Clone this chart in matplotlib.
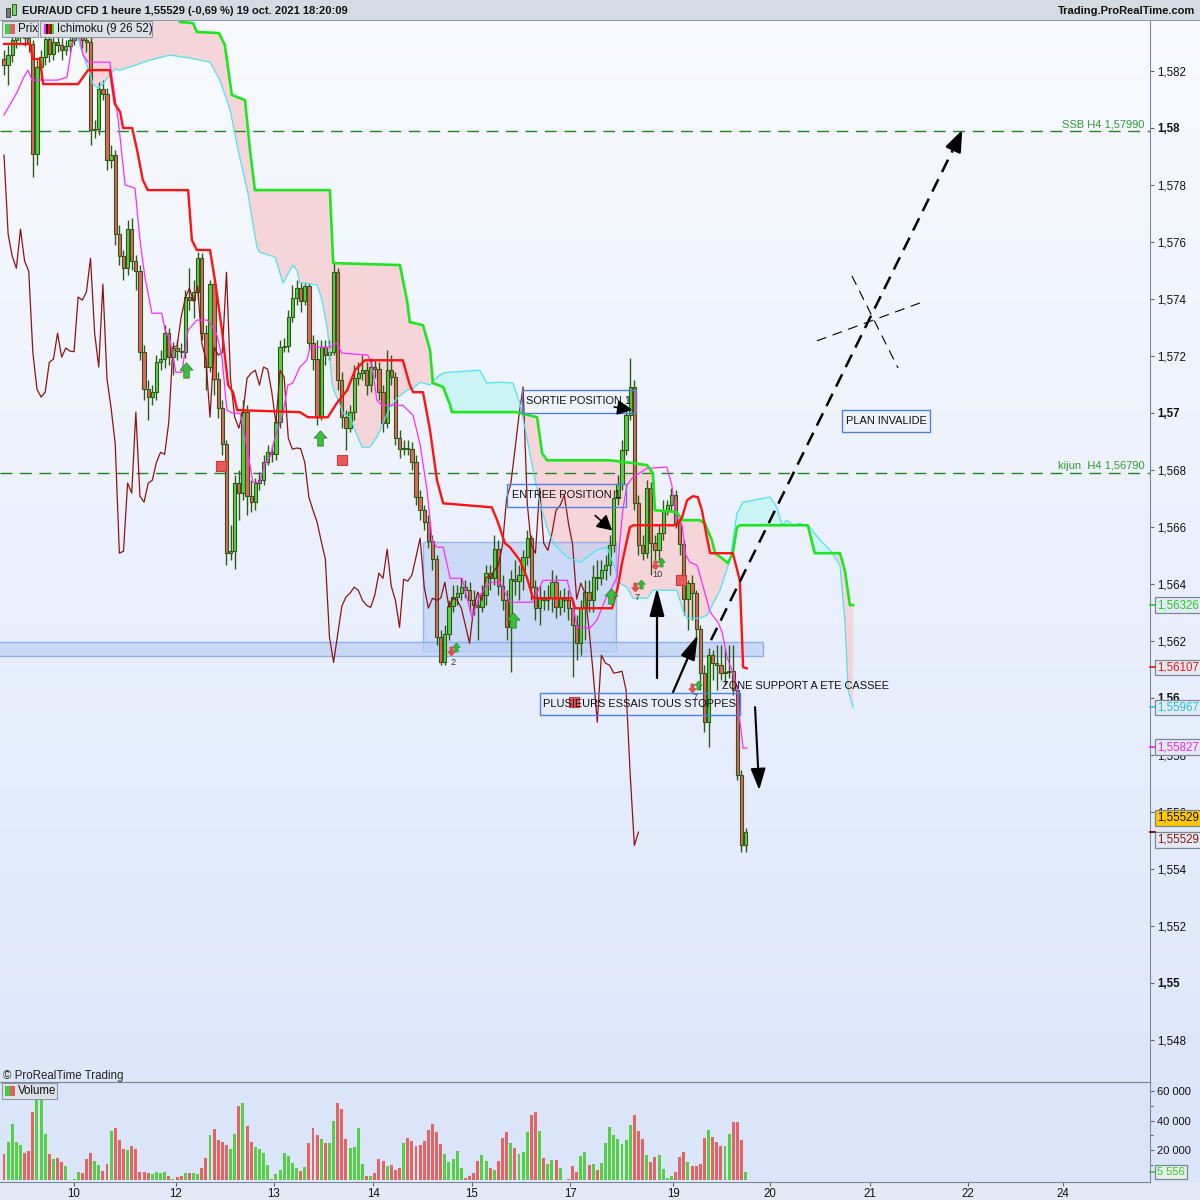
import numpy as np
import matplotlib
matplotlib.use("Agg")
import matplotlib.pyplot as plt
from matplotlib.patches import Rectangle
import matplotlib.transforms as mtransforms

plt.rcParams['font.family'] = ['Liberation Sans', 'DejaVu Sans']

# ---------------- data (EUR/AUD, 1h candles) ----------------
first_open = 1.58242
closes = [1.58221, 1.58256, 1.58309, 1.58326, 1.58344, 1.58316, 1.58295, 1.57908, 1.58214, 1.58249,
          1.58312, 1.58259, 1.58302, 1.58291, 1.58273, 1.58288, 1.58309, 1.58326, 1.58344, 1.58309,
          1.58302, 1.57993, 1.57996, 1.58137, 1.58119, 1.57887, 1.57905, 1.57628, 1.57550, 1.57508,
          1.57645, 1.57533, 1.57498, 1.57213, 1.57084, 1.57056, 1.57073, 1.57178, 1.57189, 1.57280,
          1.57196, 1.57228, 1.57217, 1.57215, 1.57407, 1.57396, 1.57424, 1.57543, 1.57280, 1.57161,
          1.57452, 1.57119, 1.57017, 1.56891, 1.56508, 1.56515, 1.56754, 1.56719, 1.57003, 1.56708,
          1.56687, 1.56754, 1.56764, 1.56827, 1.56862, 1.56855, 1.56968, 1.57231, 1.57235, 1.57336,
          1.57403, 1.57438, 1.57392, 1.57445, 1.57245, 1.57189, 1.56985, 1.57231, 1.57203, 1.57213,
          1.57494, 1.57115, 1.56985, 1.56947, 1.57003, 1.57122, 1.57140, 1.57150, 1.57098, 1.57161,
          1.57154, 1.57073, 1.56964, 1.57150, 1.57126, 1.56912, 1.56873, 1.56877, 1.56875, 1.56827,
          1.56705, 1.56659, 1.56617, 1.56550, 1.56487, 1.56213, 1.56125, 1.56224, 1.56322, 1.56354,
          1.56368, 1.56389, 1.56378, 1.56343, 1.56325, 1.56318, 1.56361, 1.56438, 1.56420, 1.56522,
          1.56392, 1.56343, 1.56248, 1.56417, 1.56410, 1.56431, 1.56494, 1.56561, 1.56389, 1.56315,
          1.56350, 1.56343, 1.56350, 1.56406, 1.56318, 1.56350, 1.56343, 1.56315, 1.56255, 1.56192,
          1.56318, 1.56371, 1.56343, 1.56424, 1.56422, 1.56448, 1.56466, 1.56536, 1.56701, 1.56750,
          1.56869, 1.56992, 1.57091, 1.56683, 1.56536, 1.56508, 1.56736, 1.56543, 1.56518, 1.56578,
          1.56659, 1.56676, 1.56712, 1.56613, 1.56540, 1.56347, 1.56403, 1.56368, 1.56241, 1.56087,
          1.55915, 1.56150, 1.56122, 1.56115, 1.56087, 1.56090, 1.56094, 1.56027, 1.55729, 1.55483,
          1.55529]
highs = [1.58274, 1.58291, 1.58351, 1.58361, 1.58372, 1.58365, 1.58344, 1.58309, 1.58238, 1.58274,
         1.58344, 1.58344, 1.58326, 1.58326, 1.58316, 1.58309, 1.58337, 1.58351, 1.58372, 1.58361,
         1.58344, 1.58323, 1.58028, 1.58161, 1.58168, 1.58140, 1.57940, 1.57922, 1.57659, 1.57571,
         1.57677, 1.57684, 1.57554, 1.57519, 1.57238, 1.57115, 1.57098, 1.57203, 1.57220, 1.57308,
         1.57298, 1.57249, 1.57256, 1.57245, 1.57431, 1.57508, 1.57466, 1.57564, 1.57561, 1.57308,
         1.57466, 1.57466, 1.57143, 1.57045, 1.56905, 1.56606, 1.56782, 1.56799, 1.57045, 1.57027,
         1.56764, 1.56771, 1.56792, 1.56852, 1.56887, 1.56887, 1.56982, 1.57256, 1.57263, 1.57361,
         1.57449, 1.57466, 1.57459, 1.57459, 1.57456, 1.57273, 1.57256, 1.57256, 1.57256, 1.57256,
         1.57529, 1.57508, 1.57143, 1.57010, 1.57027, 1.57168, 1.57178, 1.57203, 1.57178, 1.57192,
         1.57185, 1.57178, 1.57098, 1.57221, 1.57203, 1.57143, 1.56940, 1.56905, 1.56905, 1.56898,
         1.56852, 1.56729, 1.56676, 1.56641, 1.56571, 1.56501, 1.56238, 1.56255, 1.56343, 1.56396,
         1.56396, 1.56420, 1.56413, 1.56406, 1.56378, 1.56361, 1.56396, 1.56466, 1.56466, 1.56571,
         1.56554, 1.56431, 1.56378, 1.56448, 1.56483, 1.56466, 1.56518, 1.56589, 1.56571, 1.56413,
         1.56396, 1.56378, 1.56396, 1.56448, 1.56431, 1.56378, 1.56385, 1.56378, 1.56343, 1.56290,
         1.56343, 1.56413, 1.56413, 1.56466, 1.56483, 1.56483, 1.56501, 1.56571, 1.56729, 1.56782,
         1.56905, 1.57027, 1.57192, 1.57115, 1.56712, 1.56571, 1.56764, 1.56757, 1.56571, 1.56606,
         1.56694, 1.56694, 1.56736, 1.56729, 1.56641, 1.56554, 1.56413, 1.56431, 1.56378, 1.56255,
         1.56115, 1.56175, 1.56167, 1.56185, 1.56185, 1.56175, 1.56185, 1.56185, 1.56045, 1.55746,
         1.55543]
lows = [1.58186, 1.58151, 1.58231, 1.58281, 1.58302, 1.58288, 1.58266, 1.57828, 1.57870, 1.58168,
        1.58221, 1.58231, 1.58238, 1.58266, 1.58238, 1.58256, 1.58266, 1.58291, 1.58309, 1.58281,
        1.58266, 1.57940, 1.57965, 1.57975, 1.58098, 1.57852, 1.57859, 1.57589, 1.57519, 1.57466,
        1.57484, 1.57501, 1.57431, 1.57185, 1.57045, 1.56975, 1.57027, 1.57045, 1.57150, 1.57157,
        1.57168, 1.57133, 1.57185, 1.57192, 1.57192, 1.57361, 1.57333, 1.57396, 1.57256, 1.57080,
        1.57143, 1.57063, 1.56982, 1.56852, 1.56466, 1.56483, 1.56452, 1.56624, 1.56694, 1.56641,
        1.56652, 1.56659, 1.56729, 1.56747, 1.56817, 1.56827, 1.56834, 1.56947, 1.57213, 1.57213,
        1.57319, 1.57378, 1.57354, 1.57378, 1.57221, 1.57150, 1.56957, 1.56975, 1.57168, 1.57185,
        1.57203, 1.57080, 1.56947, 1.56870, 1.56933, 1.56975, 1.57098, 1.57115, 1.57063, 1.57073,
        1.57122, 1.57045, 1.56933, 1.56947, 1.57098, 1.56887, 1.56841, 1.56852, 1.56852, 1.56799,
        1.56676, 1.56624, 1.56589, 1.56526, 1.56448, 1.56185, 1.56115, 1.56115, 1.56203, 1.56301,
        1.56325, 1.56343, 1.56350, 1.56301, 1.56290, 1.56203, 1.56301, 1.56325, 1.56378, 1.56396,
        1.56361, 1.56308, 1.56203, 1.56090, 1.56361, 1.56343, 1.56378, 1.56466, 1.56343, 1.56273,
        1.56255, 1.56308, 1.56308, 1.56301, 1.56280, 1.56290, 1.56301, 1.56273, 1.56073, 1.56132,
        1.56150, 1.56203, 1.56301, 1.56301, 1.56378, 1.56396, 1.56413, 1.56431, 1.56511, 1.56676,
        1.56729, 1.56852, 1.56975, 1.56659, 1.56501, 1.56483, 1.56490, 1.56431, 1.56483, 1.56483,
        1.56554, 1.56641, 1.56652, 1.56596, 1.56501, 1.56290, 1.56238, 1.56273, 1.56203, 1.56027,
        1.55880, 1.55827, 1.56062, 1.56027, 1.56062, 1.56045, 1.56069, 1.56010, 1.55711, 1.55458,
        1.55458]
volumes = [17300, 25600, 38000, 25600, 23800, 18000, 19600, 45600, 60000, 62000,
           30700, 17300, 14400, 15100, 11800, 9100, 0, 700, 5100, 4700,
           14000, 18000, 12700, 10400, 6000, 11100, 32700, 34700, 26700, 21100,
           20000, 22900, 21100, 5100, 5100, 4700, 3800, 5100, 4700, 5100,
           2400, 700, 1800, 2400, 4400, 4400, 4400, 4000, 8000, 15100,
           30000, 34500, 26700, 25600, 23800, 20700, 31300, 49600, 52000, 36200,
           25600, 22000, 20700, 18400, 10000, 900, 4000, 6900, 18000, 16200,
           11300, 8200, 6200, 8700, 24700, 34700, 30400, 27300, 24700, 24700,
           40000, 52000, 48000, 27300, 21800, 22000, 34700, 10700, 2700, 2700,
           4700, 14000, 13100, 9100, 10400, 6900,
           8400, 24700, 28500, 26200, 22900, 23300, 26200, 34000, 38000, 32200,
           24000, 17300, 12200, 14000, 19600, 8000, 1100, 2900, 4700, 12900,
           16700, 12700, 8000, 6700, 12900, 28200, 32200, 24900, 21300, 17300,
           18900, 32200, 43600, 45600, 32900, 15100, 10700, 13300, 13300, 8000,
           0, 700, 9300, 5300, 16000, 18900, 10000, 11100, 6700, 11300,
           24700, 36000, 30000, 27300, 24000, 26700, 37300, 43600, 32700, 27300,
           16700, 12000, 15300, 16700, 7300, 1600, 2700, 5100, 15300, 18900,
           12000, 9300, 9300, 11100, 28000, 34000, 28700, 25600, 22700, 22700,
           31300, 39300, 39300, 26700, 5556]

# Ichimoku (9 26 52) lines (bar index, price)
kijun_idx = [0, 6.3, 7.0, 8.7, 9.5, 18.0, 20.4, 25.7, 26.9, 28.2, 28.9, 31.1, 32.3, 33.7, 34.9,
             44.7, 45.6, 46.8, 50.0, 51.2, 52.9, 54.4, 55.6, 56.6, 71.8, 73.8, 78.6, 80.8, 83.3, 85.2,
             87.6, 96.8, 98.5, 99.3, 101.7, 103.4, 105.1, 106.6, 118.4, 119.7, 121.6, 122.8, 125.2, 126.9,
             128.4, 137.9, 138.6, 147.6, 149.0, 150.0, 151.9, 152.7, 163.3, 164.6, 165.8, 167.2, 168.4,
             169.4, 170.6, 171.4, 176.9, 178.6, 179.4, 180.3]
kijun_val = [1.58295, 1.58295, 1.58242, 1.58242, 1.58154, 1.58154, 1.58203, 1.58203, 1.58084, 1.58056,
             1.58000, 1.58000, 1.57923, 1.57817, 1.57782, 1.57782, 1.57607, 1.57572, 1.57572, 1.57466,
             1.57291, 1.57098, 1.57073, 1.57010, 1.57003, 1.56985, 1.56985, 1.57035, 1.57080, 1.57150,
             1.57185, 1.57185, 1.57098, 1.57073, 1.57073, 1.56940, 1.56764, 1.56683, 1.56669, 1.56624,
             1.56543, 1.56529, 1.56483, 1.56424, 1.56350, 1.56350, 1.56315, 1.56315, 1.56389, 1.56473,
             1.56599, 1.56606, 1.56606, 1.56634, 1.56694, 1.56708, 1.56705, 1.56659, 1.56564, 1.56508,
             1.56508, 1.56413, 1.56108, 1.56104]
tenkan_idx = [0, 0.7, 3.2, 4.6, 5.8, 6.8, 13.1, 15.3, 16.5, 18.0,
              19.2, 20.4, 25.7, 27.7, 29.4, 31.8, 33.0, 34.2, 35.9, 38.3,
              39.1, 40.3, 41.7, 43.2, 44.7, 46.8, 49.3, 50.0, 51.7, 52.9,
              54.1, 55.6, 57.3, 59.0, 60.4, 62.1, 63.3, 64.6, 65.8, 67.7,
              68.9, 70.1, 71.8, 73.5, 74.3, 79.1, 80.8, 82.0, 88.3, 89.3,
              90.5, 91.7, 96.8, 99.3, 101.0, 102.7, 103.9, 105.1, 106.6, 108.3,
              111.2, 112.4, 113.6, 115.5, 118.0, 120.4, 121.6, 122.8, 128.4, 130.8,
              136.7, 137.9, 139.1, 142.2, 143.9, 145.9, 147.6, 148.8, 149.5, 150.2,
              151.2, 152.7, 156.1, 160.9, 162.1, 163.1, 164.6, 165.5, 166.5, 168.2,
              169.4, 171.4, 173.3, 174.3, 175.5, 176.7, 177.9, 178.6, 179.4, 180.3]
tenkan_val = [1.58046, 1.58063, 1.58126, 1.58172, 1.58203, 1.58168, 1.58168, 1.58179, 1.58291, 1.58344,
              1.58256, 1.58231, 1.58231, 1.58031, 1.57800, 1.57789, 1.57607, 1.57477, 1.57350, 1.57350,
              1.57291, 1.57256, 1.57143, 1.57143, 1.57291, 1.57326, 1.57326, 1.57316, 1.57273, 1.57196,
              1.57010, 1.56999, 1.56999, 1.56880, 1.56757, 1.56757, 1.56824, 1.56845, 1.56915, 1.56999,
              1.57098, 1.57105, 1.57161, 1.57185, 1.57231, 1.57231, 1.57245, 1.57210, 1.57203, 1.57168,
              1.57045, 1.57027, 1.57027, 1.56992, 1.56888, 1.56729, 1.56554, 1.56529, 1.56529, 1.56420,
              1.56420, 1.56350, 1.56283, 1.56361, 1.56406, 1.56406, 1.56371, 1.56336, 1.56336, 1.56413,
              1.56413, 1.56343, 1.56248, 1.56245, 1.56273, 1.56343, 1.56389, 1.56424, 1.56554, 1.56659,
              1.56747, 1.56775, 1.56806, 1.56810, 1.56747, 1.56641, 1.56603, 1.56501, 1.56476, 1.56466,
              1.56406, 1.56301, 1.56266, 1.56231, 1.56143, 1.56097, 1.56038, 1.55922, 1.55824, 1.55824]
ssb_idx = [17.0, 41.7, 42.7, 45.9, 46.8, 52.2, 53.6, 55.3, 58.5, 59.7,
           60.9, 79.1, 79.9, 96.1, 97.8, 98.5, 101.7, 103.4, 104.1, 106.6,
           108.3, 108.7, 124.5, 129.4, 130.6, 131.8, 147.1, 152.7, 156.1, 157.5,
           158.0, 163.3, 164.6, 168.9, 170.1, 171.8, 172.6, 174.3, 175.7, 176.9,
           177.9, 178.6, 195.1, 196.8, 202.9, 204.1, 205.3, 206.1]
ssb_val = [1.5860, 1.5855, 1.58372, 1.58368, 1.58337, 1.58333, 1.58291, 1.58116, 1.58098, 1.57923,
           1.57782, 1.57782, 1.57526, 1.57519, 1.57396, 1.57319, 1.57308, 1.57221, 1.57105, 1.57091,
           1.57027, 1.57003, 1.57003, 1.56985, 1.56859, 1.56834, 1.56834, 1.56824, 1.56817, 1.56789,
           1.56659, 1.56652, 1.56624, 1.56624, 1.56613, 1.56554, 1.56508, 1.56490, 1.56473, 1.56508,
           1.56599, 1.56606, 1.56606, 1.56508, 1.56508, 1.56448, 1.56326, 1.56326]
ssa_idx = [17.0, 18.0, 18.4, 19.2, 20.1, 20.9, 21.6, 22.8, 24.0, 25.7,
           26.9, 28.2, 30.6, 35.4, 40.3, 45.1, 50.0, 52.4, 54.9, 56.8,
           58.5, 59.2, 60.4, 61.4, 62.1, 65.8, 67.7, 70.1, 71.1, 71.8,
           76.0, 77.2, 78.6, 79.6, 80.3, 81.1, 82.3, 84.0, 85.7, 86.9,
           88.8, 90.5, 92.0, 93.7, 95.4, 97.8, 99.3, 101.0, 103.4, 105.1,
           106.6, 108.3, 115.5, 117.2, 120.4, 123.5, 125.2, 126.9, 128.4, 130.1,
           131.8, 133.3, 136.7, 139.8, 141.5, 143.9, 146.4, 147.8, 149.5, 151.2,
           152.7, 156.1, 157.5, 163.3, 164.8, 165.8, 168.9, 170.6, 173.8, 176.2,
           177.9, 179.4, 185.9, 187.6, 188.8, 190.0, 191.5, 193.2, 195.6, 198.1,
           200.5, 202.9, 204.1, 204.9, 206.1]
ssa_val = [1.58484, 1.58312, 1.58291, 1.58256, 1.58221, 1.58186, 1.58154, 1.58140, 1.58154, 1.58186,
           1.58207, 1.58203, 1.58214, 1.58238, 1.58256, 1.58245, 1.58231, 1.58168, 1.58063, 1.57923,
           1.57817, 1.57772, 1.57666, 1.57582, 1.57564, 1.57547, 1.57456, 1.57519, 1.57501, 1.57456,
           1.57449, 1.57396, 1.57284, 1.57105, 1.57070, 1.57045, 1.56999, 1.56985, 1.56922, 1.56880,
           1.56880, 1.56915, 1.56964, 1.57020, 1.57052, 1.57080, 1.57087, 1.57108, 1.57098, 1.57126,
           1.57140, 1.57143, 1.57150, 1.57105, 1.57108, 1.57105, 1.57035, 1.56915, 1.56800, 1.56683,
           1.56599, 1.56543, 1.56494, 1.56476, 1.56494, 1.56519, 1.56529, 1.56473, 1.56403, 1.56389,
           1.56350, 1.56350, 1.56378, 1.56378, 1.56308, 1.56280, 1.56280, 1.56290, 1.56378, 1.56483,
           1.56648, 1.56687, 1.56705, 1.56669, 1.56606, 1.56624, 1.56606, 1.56613, 1.56599, 1.56554,
           1.56519, 1.56466, 1.56273, 1.56027, 1.55967]
chikou_shift = 26

day_ticks = [17.0, 41.7, 65.5, 89.6, 113.6, 137.4, 162.4, 185.9, 210.2, 234.0, 257.0]
day_labels = ['10', '12', '13', '14', '15', '17', '19', '20', '21', '22', '24']
price_ticks = [1.548, 1.550, 1.552, 1.554, 1.556, 1.558, 1.560, 1.562, 1.564, 1.566,
               1.568, 1.570, 1.572, 1.574, 1.576, 1.578, 1.580, 1.582]
price_labels = ['1,548', '1,55', '1,552', '1,554', '1,556', '1,558', '1,56', '1,562', '1,564', '1,566',
                '1,568', '1,57', '1,572', '1,574', '1,576', '1,578', '1,58', '1,582']
vol_ticks = [20000, 40000, 60000]
vol_labels = ['20 000', '40 000', '60 000']

ssb_h4 = 1.57990
kijun_h4 = 1.56790

# ---------------- layout ----------------
W, H = 1200, 1200
X0, X1 = -0.971, 278.16
Y0, Y1 = 1.546526, 1.583754
V0, V1 = -1350, 66000
TXT = 7.9

def fy(py):
    return 1 - py / H

fig = plt.figure(figsize=(12, 12), dpi=100)
fig.patch.set_facecolor('#e4eaf5')

# background gradient for price panel (incl. right scale)
bg = fig.add_axes([0, fy(1082), 1, (1082 - 21) / H])
t = np.linspace(0, 1, 256)[:, None, None]
top = np.array([0.972, 0.980, 0.998])
bot = np.array([0.870, 0.906, 0.980])
bg.imshow(top + (bot - top) * t, aspect='auto', extent=[0, 1, 0, 1])
bg.axis('off')
# volume background
bgv = fig.add_axes([0, fy(1182), 1, 100 / H])
bgv.set_facecolor('#dbe5fa')
bgv.set_xticks([]); bgv.set_yticks([])
for s in bgv.spines.values():
    s.set_visible(False)

ax = fig.add_axes([0, fy(1082), 1150 / W, (1082 - 21) / H])
ax.set_facecolor('none')
ax.set_xlim(X0, X1)
ax.set_ylim(Y0, Y1)

closes_a = np.array(closes)
opens_a = np.r_[first_open, closes_a[:-1]]
n = len(closes_a)
xi = np.arange(n)
highs_a = np.maximum(np.array(highs), np.maximum(opens_a, closes_a))
lows_a = np.minimum(np.array(lows), np.minimum(opens_a, closes_a))
up = closes_a >= opens_a
GREEN = '#56cf46'
RED = '#e46363'
EDGE = '#2f5a16'
cols = np.where(up, GREEN, RED)

# cloud
grid = np.linspace(17.0, 206.1, 3000)
a = np.interp(grid, ssa_idx, ssa_val)
b = np.interp(grid, ssb_idx, ssb_val)
ax.fill_between(grid, a, b, where=b >= a, interpolate=True, color='#f5d5da', lw=0, zorder=1)
ax.fill_between(grid, a, b, where=a > b, interpolate=True, color='#ccf4f5', lw=0, zorder=1)

# blue zones
ax.add_patch(Rectangle((101.7, 1.56165), 148.5 - 101.7, 1.56547 - 1.56165,
                       fc='#bccff5', ec='#6d9ae8', lw=1, alpha=0.65, zorder=1.5))
ax.add_patch(Rectangle((-1.5, 1.56147), 184.2 + 1.5, 1.56196 - 1.56147,
                       fc='#bccff5', ec='#6d9ae8', lw=1, alpha=0.7, zorder=1.5))

# horizontal H4 levels
ax.axhline(ssb_h4, color='#1f861f', lw=1.0, ls=(0, (8.5, 5.5)), zorder=1.6)
ax.axhline(kijun_h4, color='#1f861f', lw=1.0, ls=(0, (8.5, 5.5)), zorder=1.6)
ax.text(276.9, ssb_h4 + 0.00005, 'SSB H4 1,57990', ha='right', va='bottom',
        color='#2f9a2f', fontsize=8.0, zorder=5)
ax.text(276.9, kijun_h4 + 0.00005, 'kijun  H4 1,56790', ha='right', va='bottom',
        color='#2f9a2f', fontsize=8.0, zorder=5)

# candles
ax.vlines(xi, lows_a, highs_a, color=EDGE, lw=1.0, zorder=2)
ax.bar(xi, np.maximum(np.abs(closes_a - opens_a), 1.2e-5), bottom=np.minimum(opens_a, closes_a),
       width=0.8, color=cols, edgecolor=EDGE, linewidth=0.8, zorder=2.1)

# ichimoku lines
chik_x = np.arange(n - chikou_shift)
ax.plot(chik_x, closes_a[chikou_shift:], color='#8e1414', lw=0.9, zorder=3)
ax.plot(ssa_idx, ssa_val, color='#4fe2f0', lw=0.9, zorder=3)
ax.plot(tenkan_idx, tenkan_val, color='#ff2cff', lw=0.9, zorder=3.1)
ax.plot(ssb_idx, ssb_val, color='#1fe51f', lw=1.9, zorder=3.2, solid_joinstyle='round')
ax.plot(kijun_idx, kijun_val, color='#ff1212', lw=1.7, zorder=3.3, solid_joinstyle='round')

# signal markers
up_arrow = [(0, 1), (-0.85, 0.05), (-0.36, 0.05), (-0.36, -1), (0.36, -1), (0.36, 0.05), (0.85, 0.05), (0, 1)]
down_arrow = [(x, -y) for x, y in up_arrow]
big_up_x = [44.2, 76.7, 123.5, 147.3]
big_up_y = [1.57151, 1.56912, 1.56274, 1.56358]
ax.plot(big_up_x, big_up_y, ls='none', marker=up_arrow, ms=11, mfc='#3fbd3f', mec='#2c8a2c', mew=0.6, zorder=4)
sq_x = [52.7, 82.0, 164.3, 138.3]
sq_y = [1.56814, 1.56835, 1.56414, 1.55986]
ax.plot(sq_x, sq_y, ls='none', marker='s', ms=7.3, mfc='#ea5a5a', mec='#c83c3c', mew=0.8, zorder=4)
pair_dn_x = [108.5, 153.2, 158.0, 167.0]
pair_dn_y = [1.56165, 1.56389, 1.56467, 1.56035]
pair_up_x = [109.8, 154.6, 159.5, 168.4]
pair_up_y = [1.56178, 1.56400, 1.56477, 1.56046]
pair_txt = ['2', '7', '10', '7']
pair_txt_x = [109.0, 153.6, 158.7, 167.7]
pair_txt_y = [1.56126, 1.56351, 1.56435, 1.56003]
ax.plot(pair_dn_x, pair_dn_y, ls='none', marker=down_arrow, ms=6.5, mfc='#e85050', mec='#c83a3a', mew=0.4, zorder=4)
ax.plot(pair_up_x, pair_up_y, ls='none', marker=up_arrow, ms=6.5, mfc='#33bb33', mec='#238a23', mew=0.4, zorder=4)
for tx, px, py in zip(pair_txt, pair_txt_x, pair_txt_y):
    ax.text(px, py, tx, ha='center', va='center', fontsize=6.6, color='#333333', zorder=4)

# text boxes
boxes = [('SORTIE POSITION 1', 125.7, 153.4, 1.57000, 1.57081),
         ('ENTREE POSITION 1', 122.1, 151.0, 1.56670, 1.56751),
         ('PLAN INVALIDE', 203.4, 224.8, 1.56933, 1.57010),
         ('PLUSIEURS ESSAIS TOUS STOPPES', 130.1, 178.6, 1.55940, 1.56017)]
for txt, x0, x1, y0, y1 in boxes:
    ax.add_patch(Rectangle((x0, y0), x1 - x0, y1 - y0, fc='none', ec='#4f82e0', lw=1.0, zorder=4.5))
    ax.text((x0 + x1) / 2, (y0 + y1) / 2, txt, ha='center', va='center', fontsize=TXT,
            color='#111111', zorder=4.6)
ax.text(174.3, 1.56042, 'ZONE SUPPORT A ETE CASSEE', ha='left', va='center', fontsize=TXT,
        color='#111111', zorder=4.6)

# arrows
def arrow(tail, tip, lw=1.5, hl=1.3, hw=0.35, ms=10):
    ax.annotate('', xy=tip, xytext=tail,
                arrowprops=dict(arrowstyle=f'-|>,head_length={hl},head_width={hw}', color='black',
                                lw=lw, shrinkA=0, shrinkB=0, mutation_scale=ms), zorder=5)

arrow((148.1, 1.57021), (152.5, 1.57011), lw=1.2, hl=0.9, hw=0.45)
arrow((143.5, 1.56640), (147.6, 1.56588), lw=1.2, hl=0.9, hw=0.5)
arrow((158.5, 1.56070), (158.5, 1.56386), lw=1.6, hl=1.7, hw=0.45)
arrow((162.4, 1.56021), (168.4, 1.56221), lw=1.6, hl=1.5, hw=0.45)
arrow((182.3, 1.55968), (183.3, 1.55677), lw=1.5, hl=1.3, hw=0.45)
# dashed target arrow
ax.plot([171.6, 231.4], [1.56203, 1.57955], color='black', lw=1.8, ls=(0, (5.5, 3.2)), zorder=5)
arrow((230.6, 1.57930), (232.6, 1.57993), lw=1.8, hl=1.3, hw=0.5)
# X mark
ax.plot([197.3, 222.3], [1.57253, 1.57386], color='black', lw=0.8, ls=(0, (9, 6)), zorder=5)
ax.plot([205.8, 217.0], [1.57481, 1.57158], color='black', lw=0.8, ls=(0, (9, 6)), zorder=5)

# axes styling
for s in ['left', 'top']:
    ax.spines[s].set_visible(False)
ax.spines['right'].set_color('#7c8a98')
ax.spines['bottom'].set_color('#7c8a98')
ax.set_xticks([])
ax.yaxis.tick_right()
ax.set_yticks(price_ticks)
ax.set_yticklabels(price_labels)
ax.tick_params(axis='y', direction='out', length=3, width=0.8, color='#5a6672', pad=2,
               labelsize=8.3, labelcolor='#111111')
for lbl in ax.get_yticklabels():
    if len(lbl.get_text()) == 4:
        lbl.set_fontweight('bold')

trans = mtransforms.blended_transform_factory(ax.transAxes, ax.transData)
def value_label(yv, text, tc, fc='#e4eaf4', tick_y=None):
    ax.text(1.0 + 7 / 1150, yv, text, transform=trans, ha='left', va='center', fontsize=8.3,
            color=tc, zorder=10, clip_on=False,
            bbox=dict(boxstyle='square,pad=0.16', fc=fc, ec='#7a8896', lw=0.9))
    ty = yv if tick_y is None else tick_y
    ax.plot([1.0, 1.0 + 5 / 1150], [ty, ty], transform=trans, color=tc, lw=1.2, clip_on=False, zorder=10)

value_label(1.56326, '1,56326', '#22cc22')
value_label(1.56107, '1,56107', '#ee1111')
value_label(1.55967, '1,55967', '#1fc4d4')
value_label(1.55827, '1,55827', '#ee22ee')
value_label(1.55579, '1,55529', '#111111', fc='#ffc800', tick_y=1.55529)
value_label(1.55502, '1,55529', '#8e1414', tick_y=1.55529)

# volume panel
vax = fig.add_axes([0, fy(1182), 1150 / W, 100 / H])
vax.set_facecolor('none')
vax.set_xlim(X0, X1)
vax.set_ylim(V0, V1)
vax.bar(xi, volumes, width=0.72, color=cols, lw=0, zorder=2)
vax.spines['left'].set_visible(False)
for s in ['right', 'bottom', 'top']:
    vax.spines[s].set_color('#7c8a98')
vax.yaxis.tick_right()
vax.set_yticks(vol_ticks)
vax.set_yticklabels(vol_labels)
vax.set_yticks([10000, 30000, 50000], minor=True)
vax.tick_params(axis='y', which='major', direction='out', length=3, width=0.8, color='#5a6672',
                pad=2, labelsize=8.0, labelcolor='#111111')
vax.tick_params(axis='y', which='minor', direction='out', length=2, width=0.8, color='#5a6672')
vax.set_xticks(day_ticks)
vax.set_xticklabels(day_labels)
vax.tick_params(axis='x', direction='out', length=3, width=0.8, color='#5a6672', pad=1,
                labelsize=8.3, labelcolor='#111111')
vtrans = mtransforms.blended_transform_factory(vax.transAxes, vax.transData)
vax.text(1.0 + 7 / 1150, volumes[-1], '5 556', transform=vtrans, ha='left', va='center', fontsize=8.0,
         color='#33cc33', clip_on=False, zorder=10,
         bbox=dict(boxstyle='square,pad=0.16', fc='#e6f0e6', ec='#7a8896', lw=0.9))
vax.plot([1.0, 1.0 + 5 / 1150], [volumes[-1]] * 2, transform=vtrans, color='#33cc33', lw=1.2, clip_on=False)

# header
fig.add_artist(Rectangle((0, fy(21)), 1, 21 / H, transform=fig.transFigure, fc='#d5dbe3', ec='none'))
fig.add_artist(Rectangle((0, fy(21)), 1, 1 / H, transform=fig.transFigure, fc='#8f9aa6', ec='none'))
fig.add_artist(Rectangle((6 / W, fy(17)), 4 / W, 9 / H, transform=fig.transFigure, fc='#777777', ec='#333333', lw=0.6))
fig.add_artist(Rectangle((12 / W, fy(15)), 4 / W, 11 / H, transform=fig.transFigure, fc='#66dd44', ec='#333333', lw=0.6))
fig.text(22 / W, fy(11), 'EUR/AUD CFD 1 heure 1,55529 (-0,69 %) 19 oct. 2021 18:20:09',
         fontsize=8.0, fontweight='bold', va='center', ha='left', color='#111111')
fig.text(1195 / W, fy(11), 'Trading.ProRealTime.com', fontsize=8.0, fontweight='bold',
         va='center', ha='right', color='#111111')

# legend boxes
def legend_box(x0, x1, y0, y1, label, stripes, tx):
    fig.add_artist(Rectangle((x0 / W, fy(y1)), (x1 - x0) / W, (y1 - y0) / H, transform=fig.transFigure,
                             fc='#dce1e8', ec='#8e99a4', lw=0.8, zorder=20))
    sw = 10 / len(stripes)
    for k, c in enumerate(stripes):
        fig.add_artist(Rectangle(((tx - 13 + k * sw) / W, fy(y1 - 3)), sw / W, (y1 - y0 - 6) / H,
                                 transform=fig.transFigure, fc=c, ec='none', zorder=21))
    fig.text(tx / W, fy((y0 + y1) / 2), label, fontsize=8.3, va='center', ha='left', color='#111111', zorder=22)

legend_box(2, 38, 21, 37, 'Prix', ['#44cc44', '#e06060'], 18)
legend_box(40, 152, 21, 37, 'Ichimoku (9 26 52)', ['#ff22ff', '#111111', '#ee1111', '#8e1414', '#22dd22'], 57)
legend_box(2, 57, 1083, 1099, 'Volume', ['#44cc44', '#e06060'], 18)
fig.text(3 / W, fy(1076), '\u00a9 ProRealTime Trading', fontsize=8.3, va='center', ha='left', color='#222222')

fig.savefig('out.png', dpi=100)
